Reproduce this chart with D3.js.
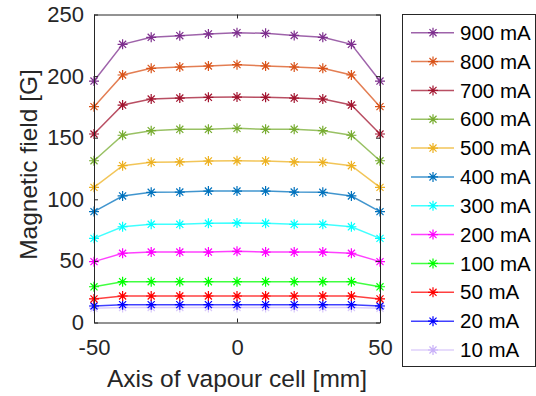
<!DOCTYPE html>
<html>
<head>
<meta charset="utf-8">
<script src="https://cdn.jsdelivr.net/npm/d3@7"></script>
<style>
  body { margin: 0; background: #fff; }
  svg { display: block; font-family: "Liberation Sans", Arial, sans-serif; }
</style>
</head>
<body>
<svg id="chart" width="536" height="396"></svg>
<script>
// positions along the cell axis [mm]
const positions = [-50, -40, -30, -20, -10, 0, 10, 20, 30, 40, 50];

const currents = ["900 mA", "800 mA", "700 mA", "600 mA", "500 mA", "400 mA",
                  "300 mA", "200 mA", "100 mA", "50 mA", "20 mA", "10 mA"];

const field900 = [196, 225.8, 231.5, 232.8, 234.2, 235.2, 234.7, 233, 231.5, 225.8, 196];
const field800 = [175.2, 200.9, 206.3, 207.4, 208.2, 209.3, 208.2, 207.4, 206.3, 200.9, 175.2];
const field700 = [153, 176.5, 181.4, 182.2, 182.8, 183, 182.8, 182.2, 181.4, 176.5, 153];
const field600 = [131.3, 152, 155.7, 156.8, 156.8, 157.6, 156.8, 156.8, 155.7, 152, 131.3];
const field500 = [109.7, 127.3, 130, 130.3, 131.1, 131.3, 131.1, 130.3, 130, 127.3, 109.7];
const field400 = [90, 102.7, 105.7, 105.9, 106.7, 106.7, 106.7, 105.9, 105.7, 102.7, 90];
const field300 = [68.3, 77.7, 79.7, 79.7, 80.5, 80.8, 80.5, 79.7, 79.7, 77.7, 68.3];
const field200 = [49.4, 56.2, 57.2, 57.2, 57.2, 57.8, 57.2, 57.2, 57.2, 56.2, 49.4];
const field100 = [29, 33.1, 33.1, 33.1, 33.1, 33.1, 33.1, 33.1, 33.1, 33.1, 29];
const field50  = [19.1, 21.5, 21.5, 21.5, 21.5, 21.5, 21.5, 21.5, 21.5, 21.5, 19.1];
const field20  = [13.4, 14.5, 14.5, 14.5, 14.5, 14.5, 14.5, 14.5, 14.5, 14.5, 13.4];
const field10  = [11.6, 12.2, 12.2, 12.2, 12.2, 12.2, 12.2, 12.2, 12.2, 12.2, 11.6];

const xTicks = [-50, 0, 50];
const yTicks = [0, 50, 100, 150, 200, 250];

const colors = ["#7E2F8E", "#D95319", "#A2142F", "#77AC30", "#EDB120", "#0072BD",
                "#00FFFF", "#FF00FF", "#00FF00", "#FF0000", "#0000FF", "#C8B0F8"];

const series = [field900, field800, field700, field600, field500, field400,
                field300, field200, field100, field50, field20, field10]
    .map((values, i) => ({ name: currents[i], color: colors[i], values }));

const margin = { top: 14.5, right: 156, bottom: 73.5, left: 94 };
const width = 536, height = 396;

const svg = d3.select("#chart");

const x = d3.scaleLinear().domain([-50, 50]).range([margin.left, width - margin.right]);
const y = d3.scaleLinear().domain([0, 250]).range([height - margin.bottom, margin.top]);

const axisColor = "#262626";

// asterisk marker path
function star(r) {
    const d = r * Math.SQRT1_2;
    return `M${-r},0L${r},0M0,${-r}L0,${r}M${-d},${-d}L${d},${d}M${-d},${d}L${d},${-d}`;
}

const line = d3.line().x((d, i) => x(positions[i])).y(d => y(d));

// draw from the lowest current upward so the big curves end up on top
const plot = svg.append("g");
series.slice().reverse().forEach(s => {
    const g = plot.append("g");
    g.append("path")
        .attr("d", line(s.values))
        .attr("fill", "none")
        .attr("stroke", s.color)
        .attr("stroke-opacity", s.name === "10 mA" ? 0.6 : 0.75)
        .attr("stroke-width", 1.5);
    g.selectAll("path.m")
        .data(s.values)
        .enter().append("path")
            .attr("class", "m")
            .attr("transform", (d, i) => `translate(${x(positions[i])},${y(d)})`)
            .attr("d", star(5))
            .attr("stroke", s.color)
            .attr("stroke-opacity", s.name === "10 mA" ? 0.7 : 1)
            .attr("stroke-width", 1.2)
            .attr("fill", "none");
});

// axes box
const x0 = x.range()[0], x1 = x.range()[1], y0 = y.range()[0], y1 = y.range()[1];
const plain = d => String(d);

const bottomAxis = svg.append("g")
    .attr("transform", `translate(0,${y0})`)
    .call(d3.axisBottom(x).tickValues(xTicks).tickSize(-4).tickSizeOuter(0).tickPadding(17).tickFormat(plain));
const topAxis = svg.append("g")
    .attr("transform", `translate(0,${y1})`)
    .call(d3.axisTop(x).tickValues(xTicks).tickSize(-4).tickSizeOuter(0).tickFormat(""));
const leftAxis = svg.append("g")
    .attr("transform", `translate(${x0},0)`)
    .call(d3.axisLeft(y).tickValues(yTicks).tickSize(-4).tickSizeOuter(0).tickPadding(10).tickFormat(plain));
const rightAxis = svg.append("g")
    .attr("transform", `translate(${x1},0)`)
    .call(d3.axisRight(y).tickValues(yTicks).tickSize(-4).tickSizeOuter(0).tickFormat(""));

[bottomAxis, topAxis, leftAxis, rightAxis].forEach(a => {
    a.select(".domain").attr("stroke", axisColor).attr("stroke-width", 1);
    a.selectAll(".tick line").attr("stroke", axisColor);
    a.selectAll(".tick text")
        .attr("fill", axisColor)
        .style("font-size", "22px")
        .style("font-family", "'Liberation Sans', Arial, sans-serif");
});

svg.append("text")
    .attr("x", (x0 + x1) / 2)
    .attr("y", 387)
    .attr("text-anchor", "middle")
    .attr("fill", axisColor)
    .style("font-size", "24.5px")
    .text("Axis of vapour cell [mm]");

svg.append("text")
    .attr("transform", `translate(37,${(y0 + y1) / 2 - 4}) rotate(-90)`)
    .attr("text-anchor", "middle")
    .attr("fill", axisColor)
    .style("font-size", "24.5px")
    .text("Magnetic field [G]");

// legend
const legend = svg.append("g");
legend.append("rect")
    .attr("x", 402.5).attr("y", 14.5)
    .attr("width", 133).attr("height", 352)
    .attr("fill", "#fff")
    .attr("stroke", axisColor)
    .attr("stroke-width", 1);

const ly = d3.scalePoint().domain(currents).range([32.7, 350]);

const item = legend.selectAll("g.item")
    .data(series)
    .enter().append("g")
        .attr("class", "item")
        .attr("transform", d => `translate(0,${ly(d.name)})`);

item.append("line")
    .attr("x1", 411).attr("x2", 454)
    .attr("stroke", d => d.color)
    .attr("stroke-opacity", d => d.name === "10 mA" ? 0.6 : 0.75)
    .attr("stroke-width", 1.5);
item.append("path")
    .attr("transform", "translate(433,0)")
    .attr("d", star(5))
    .attr("stroke", d => d.color)
    .attr("stroke-width", 1.2)
    .attr("fill", "none");
item.append("text")
    .attr("x", 460)
    .attr("dy", "0.35em")
    .attr("fill", "#000")
    .style("font-size", "20.5px")
    .text(d => d.name);
</script>
</body>
</html>
